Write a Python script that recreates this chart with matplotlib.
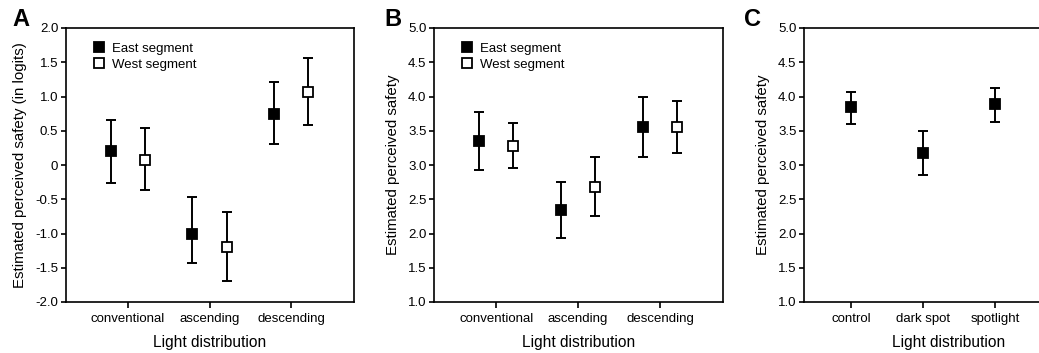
import numpy as np
import matplotlib
matplotlib.use("Agg")
import matplotlib.pyplot as plt
from matplotlib.ticker import FuncFormatter

plt.rcParams['font.family'] = ['Liberation Sans', 'DejaVu Sans']
plt.rcParams['axes.unicode_minus'] = False

### Data ###
cats_ab = ['conventional', 'ascending', 'descending']
cats_c = ['control', 'dark spot', 'spotlight']

# panel A (logits)
a_east = [0.20, -1.00, 0.75]
a_east_lo = [-0.27, -1.43, 0.30]
a_east_hi = [0.65, -0.47, 1.21]
a_west = [0.08, -1.20, 1.07]
a_west_lo = [-0.37, -1.70, 0.59]
a_west_hi = [0.54, -0.69, 1.56]

# panel B
b_east = [3.35, 2.34, 3.55]
b_east_lo = [2.92, 1.94, 3.12]
b_east_hi = [3.78, 2.75, 3.99]
b_west = [3.28, 2.68, 3.55]
b_west_lo = [2.95, 2.25, 3.17]
b_west_hi = [3.62, 3.12, 3.94]

# panel C
c_mean = [3.84, 3.18, 3.89]
c_lo = [3.60, 2.86, 3.63]
c_hi = [4.07, 3.50, 4.12]

W, H = 1039, 353
fig = plt.figure(figsize=(W / 100, H / 100), dpi=100)


def px_axes(left, top, width, height):
    return fig.add_axes([left / W, (H - top - height) / H, width / W, height / H])


def fmt(v, pos):
    if abs(v) < 1e-9:
        return '0'
    return '%.1f' % v


def errpoint(ax, x, y, lo, hi, face):
    y = np.array(y)
    yerr = [y - np.array(lo), np.array(hi) - y]
    ax.errorbar(x, y, yerr=yerr, fmt='none', ecolor='black', elinewidth=1.4,
                capsize=3.6, capthick=1.4, zorder=2)
    line, = ax.plot(x, y, 's', ms=7, mfc=face, mec='black', mew=1.3,
                    linestyle='none', zorder=3)
    return line


def style(ax, ylim, cats, xlim, ylabel, letter, lx):
    ax.set_ylim(*ylim)
    ax.set_yticks(np.arange(ylim[0], ylim[1] + 0.01, 0.5))
    ax.yaxis.set_major_formatter(FuncFormatter(fmt))
    ax.set_xlim(*xlim)
    ax.set_xticks(range(1, len(cats) + 1))
    ax.set_xticklabels(cats)
    for s in ax.spines.values():
        s.set_linewidth(1.2)
    ax.tick_params(axis='both', direction='out', width=1.2, labelsize=9.5, colors='black')
    ax.tick_params(axis='x', length=4, pad=4)
    ax.tick_params(axis='y', length=3.5, pad=2)
    ax.set_xlabel('Light distribution', fontsize=11.2, labelpad=7)
    ax.set_ylabel(ylabel, fontsize=10.8, labelpad=6)
    fig.text(lx / W, 1 - 20 / H, letter, fontsize=17, fontweight='bold',
             ha='left', va='center')


x = np.arange(1, 4)
off = 0.21

### Panel A ###
axA = px_axes(66, 28, 288, 274)
e = errpoint(axA, x - off, a_east, a_east_lo, a_east_hi, 'black')
w = errpoint(axA, x + off, a_west, a_west_lo, a_west_hi, 'white')
style(axA, (-2.0, 2.0), cats_ab, (0.24, 3.77),
      'Estimated perceived safety (in logits)', 'A', 12)
axA.legend([e, w], ['East segment', 'West segment'], loc='upper left',
           frameon=False, fontsize=9.5, handlelength=0.8, handletextpad=0.6,
           borderaxespad=0.4, labelspacing=0.3, bbox_to_anchor=(0.06, 0.985))

### Panel B ###
axB = px_axes(434, 28, 289, 274)
e = errpoint(axB, x - off, b_east, b_east_lo, b_east_hi, 'black')
w = errpoint(axB, x + off, b_west, b_west_lo, b_west_hi, 'white')
style(axB, (1.0, 5.0), cats_ab, (0.24, 3.77),
      'Estimated perceived safety', 'B', 384)
axB.legend([e, w], ['East segment', 'West segment'], loc='upper left',
           frameon=False, fontsize=9.5, handlelength=0.8, handletextpad=0.6,
           borderaxespad=0.4, labelspacing=0.3, bbox_to_anchor=(0.06, 0.985))

### Panel C (cropped at the right edge) ###
axC = px_axes(804, 28, 289, 274)
errpoint(axC, x, c_mean, c_lo, c_hi, 'black')
style(axC, (1.0, 5.0), cats_c, (0.35, 4.36),
      'Estimated perceived safety', 'C', 744)

fig.savefig('out.png', dpi=100)
